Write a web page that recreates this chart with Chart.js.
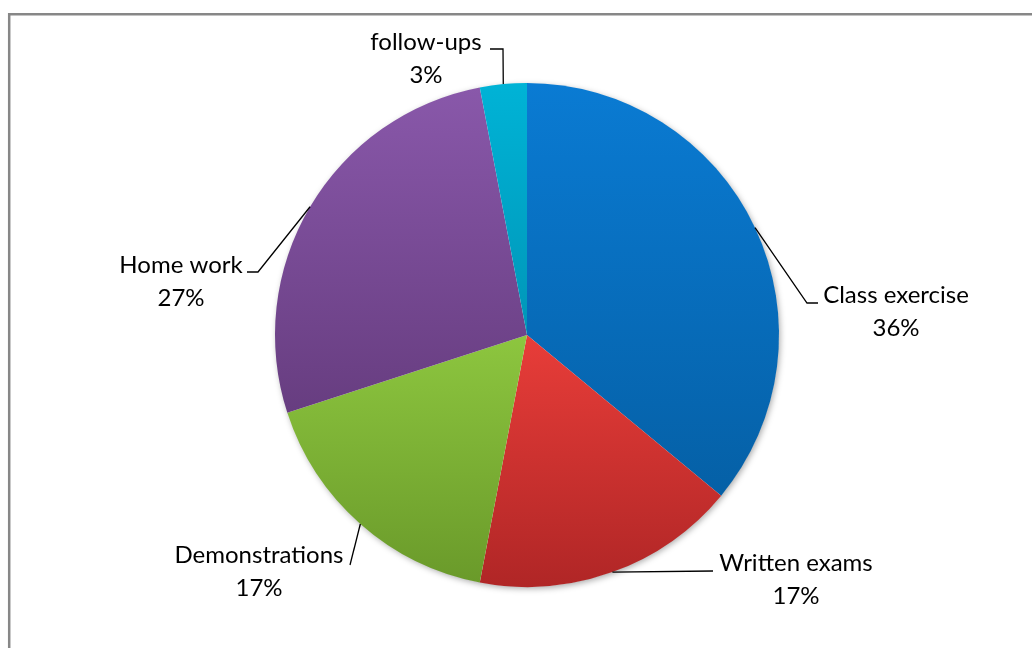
<!DOCTYPE html>
<html>
<head>
<meta charset="utf-8">
<script src="https://cdn.jsdelivr.net/npm/chart.js@4/dist/chart.umd.min.js"></script>
<style>
  html, body { margin: 0; padding: 0; background: #ffffff; }
  #wrap { position: relative; width: 1032px; height: 648px; }
</style>
</head>
<body>
<div id="wrap"><canvas id="c" width="1032" height="648"></canvas></div>
<script>
// ---- data ----
const categories = ["Class exercise", "Written exams", "Demonstrations", "Home work", "follow-ups"];
const values = [36, 17, 17, 27, 3];
const percentLabels = ["36%", "17%", "17%", "27%", "3%"];

// ---- style ----
const gradTop = ["#0A7BD3", "#E83D39", "#8DC63F", "#8958AA", "#00B3D6"];
const gradBottom = ["#0560A6", "#B02626", "#6A9A2A", "#673D80", "#0096B8"];

// label placement (text centre of first line, leader elbow/end points)
const labelPlacement = [
  { cx: 896, cy: 295, pts: [[807, 303], [818, 303]] },
  { cx: 796, cy: 563, pts: [[713, 571]] },
  { cx: 259, cy: 555, pts: [[350, 565]] },
  { cx: 181, cy: 265, pts: [[258, 272], [247, 272]] },
  { cx: 426, cy: 42,  pts: [[503, 49], [490, 49]] }
];

const FONT = "24px Lato, Calibri, 'Open Sans', sans-serif";

const framePlugin = {
  id: 'frame',
  beforeDraw(chart) {
    const ctx = chart.ctx;
    ctx.save();
    ctx.fillStyle = '#ffffff';
    ctx.fillRect(0, 0, chart.width, chart.height);
    ctx.strokeStyle = '#878787';
    ctx.lineWidth = 2.5;
    ctx.beginPath();
    ctx.moveTo(9.2, chart.height + 5);
    ctx.lineTo(9.2, 14.2);
    ctx.lineTo(chart.width + 5, 14.2);
    ctx.stroke();
    ctx.restore();
  }
};

const gradientPlugin = {
  id: 'sliceGradient',
  beforeDatasetsDraw(chart) {
    const ctx = chart.ctx;
    const meta = chart.getDatasetMeta(0);
    if (meta.data.length) {
      const a = meta.data[0];
      ctx.save();
      ctx.shadowColor = 'rgba(0,0,0,0.35)';
      ctx.shadowBlur = 6;
      ctx.shadowOffsetX = 1.5;
      ctx.shadowOffsetY = 2;
      ctx.fillStyle = '#ffffff';
      ctx.beginPath();
      ctx.arc(a.x, a.y, a.outerRadius - 0.5, 0, Math.PI * 2);
      ctx.fill();
      ctx.restore();
    }
    meta.data.forEach((arc, i) => {
      const r = arc.outerRadius;
      const s = arc.startAngle, e = arc.endAngle;
      let ys = [arc.y, arc.y + r * Math.sin(s), arc.y + r * Math.sin(e)];
      const inRange = (t) => {
        for (let k = -2; k <= 2; k++) {
          const tt = t + k * 2 * Math.PI;
          if (tt >= s && tt <= e) return true;
        }
        return false;
      };
      if (inRange(Math.PI / 2)) ys.push(arc.y + r);
      if (inRange(-Math.PI / 2)) ys.push(arc.y - r);
      const y0 = Math.min(...ys), y1 = Math.max(...ys);
      const g = ctx.createLinearGradient(0, y0, 0, y1);
      g.addColorStop(0, gradTop[i]);
      g.addColorStop(1, gradBottom[i]);
      arc.options.backgroundColor = g;
    });
  }
};

const labelPlugin = {
  id: 'outLabels',
  afterDatasetsDraw(chart) {
    const ctx = chart.ctx;
    const meta = chart.getDatasetMeta(0);
    ctx.save();
    meta.data.forEach((arc, i) => {
      const mid = (arc.startAngle + arc.endAngle) / 2;
      const sx = arc.x + arc.outerRadius * Math.cos(mid);
      const sy = arc.y + arc.outerRadius * Math.sin(mid);
      const p = labelPlacement[i];
      ctx.strokeStyle = '#000000';
      ctx.lineWidth = 1.3;
      ctx.beginPath();
      ctx.moveTo(sx, sy);
      p.pts.forEach(pt => ctx.lineTo(pt[0], pt[1]));
      ctx.stroke();
      ctx.fillStyle = '#000000';
      ctx.font = FONT;
      ctx.textAlign = 'center';
      ctx.textBaseline = 'middle';
      ctx.fillText(categories[i], p.cx, p.cy);
      ctx.fillText(percentLabels[i], p.cx, p.cy + 33);
    });
    ctx.restore();
  }
};

new Chart(document.getElementById('c'), {
  type: 'pie',
  data: {
    labels: categories,
    datasets: [{
      data: values,
      backgroundColor: gradTop,
      borderWidth: 0,
      hoverOffset: 0
    }]
  },
  options: {
    responsive: false,
    animation: false,
    devicePixelRatio: 1,
    layout: { padding: { top: 83, bottom: 61, left: 275, right: 253 } },
    plugins: {
      legend: { display: false },
      tooltip: { enabled: false }
    },
    events: []
  },
  plugins: [framePlugin, gradientPlugin, labelPlugin]
});
</script>
</body>
</html>
